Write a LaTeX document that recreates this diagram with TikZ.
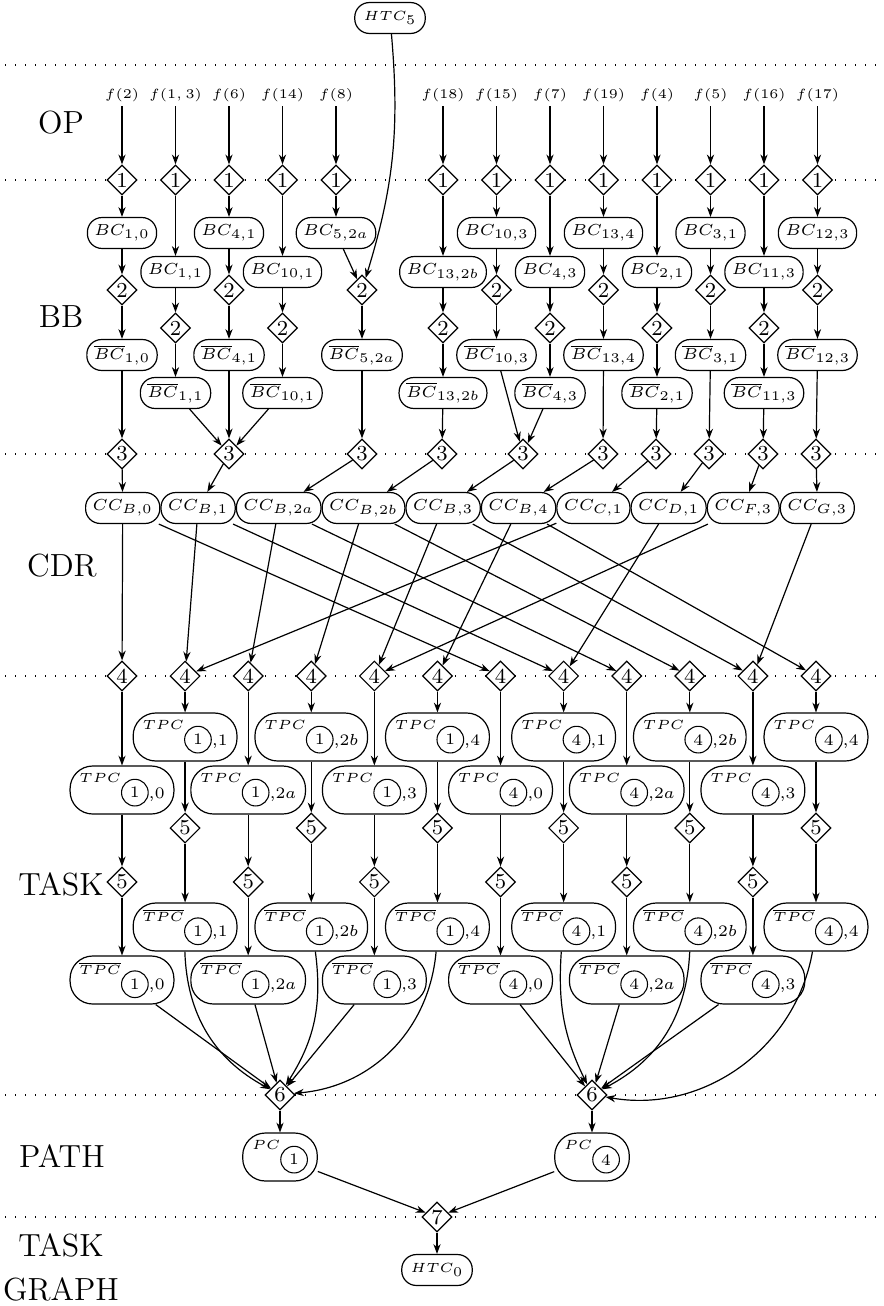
\documentclass[tikz,border=0pt]{standalone}
\usepackage{amsmath}
\usetikzlibrary{arrows.meta,positioning}
\usetikzlibrary{shapes.geometric}

\newcommand{\bcfont}{\fontsize{6}{7}\selectfont}
\newcommand{\circnum}[1]{\tikz[baseline=0pt]\node[draw,circle,inner sep=0pt,minimum size=10pt,font=\bcfont]{#1};}
\newcommand{\tpctext}[3]{$#1$\raisebox{-3.75pt}{\circnum{#2}}\raisebox{-5.8pt}{\bcfont${,}#3$}}
\newcommand{\pctext}[1]{$PC$\raisebox{-3.75pt}{\circnum{#1}}}

\begin{document}
\begin{tikzpicture}[x=0.375pt, y=-0.375pt, line width=0.45pt,
    >={Stealth[length=3.7pt,width=2.7pt]},
    dia/.style={diamond, draw, fill=white, inner sep=0pt, minimum size=11.25pt, font=\footnotesize},
    blk/.style={rectangle, rounded corners=5.5pt, draw, fill=white, inner xsep=2.6pt, inner ysep=0pt, minimum height=11.6pt, font=\bcfont},
    htcbox/.style={blk, inner xsep=3.3pt, font=\tiny},
    tpcbox/.style={rectangle, rounded corners=8.5pt, draw, fill=white, inner xsep=3.5pt, inner ysep=0pt, minimum height=18pt, font=\tiny},
    flab/.style={font=\tiny, inner sep=1.5pt},
    region/.style={font=\large, align=center},
    lvl/.style={line width=0.5pt, dash pattern=on 0.5pt off 3.25pt}]

\useasboundingbox (0,0) rectangle (884,1306);

% layer separators
\foreach \y in {65,180,454,676,1095,1217}
  \draw[lvl] (5,\y) -- (884,\y);

% layer names
\node[region] (op) at (61,123) {OP};
\node[region] (bb) at (61,317) {BB};
\node[region] (cdr) at (62,566) {CDR};
\node[region] (task) at (61,884) {TASK};
\node[region] (path) at (62,1156) {PATH};
\node[region, anchor=south, inner sep=0pt] (graph) at (61,1302) {TASK\\[2.75pt]GRAPH};

% operations
\foreach \c/\a in {0/2, 1/{1,3}, 2/6, 3/14, 4/8, 6/18, 7/15, 8/7, 9/19, 10/4, 11/5, 12/16, 13/17} {
  \node[flab] (f\c) at (122+53.5*\c, 95) {$f(\a)$};
  \node[dia] (one\c) at (122+53.5*\c, 180) {1};
  \draw[->] (f\c) -- (one\c);
}

\foreach \t/\x in {0/122, 2/229, 4/362, 6/442, 7/523, 9/603, 10/656, 11/709, 12/763, 13/816}
  \node[dia] (three\t) at (\x,454) {3};

% basic blocks
\foreach \c/\r/\s/\t in {0/0/{1,0}/0, 1/1/{1,1}/2, 2/0/{4,1}/2, 3/1/{10,1}/2, 6/1/{13,2b}/6,
    7/0/{10,3}/7, 8/1/{4,3}/7, 9/0/{13,4}/9, 10/1/{2,1}/10, 11/0/{3,1}/11, 12/1/{11,3}/12, 13/0/{12,3}/13} {
  \node[blk] (bc\c) at (122+53.5*\c, 233+39*\r) {$BC_{\s}$};
  \node[dia] (two\c) at (122+53.5*\c, 290+38*\r) {2};
  \node[blk] (bcb\c) at (122+53.5*\c, 355+38*\r) {$\overline{BC}_{\s}$};
  \draw[->] (one\c) -- (bc\c);
  \draw[->] (bc\c) -- (two\c);
  \draw[->] (two\c) -- (bcb\c);
  \draw[->] (bcb\c) -- (three\t);
}

\node[htcbox] (htc5) at (390,18) {$HTC_5$};
\node[blk] (bc4) at (336,233) {$BC_{5,2a}$};
\node[dia] (two4) at (362,290) {2};
\node[blk] (bcb4) at (362,355) {$\overline{BC}_{5,2a}$};
\draw[->] (one4) -- (bc4);
\draw[->] (bc4) -- (two4);
\draw[->] (htc5) to[bend left=11] (two4);
\draw[->] (two4) -- (bcb4);
\draw[->] (bcb4) -- (three4);

% control dependence regions
\node[blk, anchor=west] (cc0) at (85,508) {$CC_{B,0}$};
\foreach \s [count=\n] in {{B,1},{B,2a},{B,2b},{B,3},{B,4},{C,1},{D,1},{F,3},{G,3}} {
  \pgfmathtruncatemacro\p{\n-1}
  \node[blk, right=0pt of cc\p] (cc\n) {$CC_{\s}$};
}
\foreach \t/\n in {0/0, 2/1, 4/2, 6/3, 7/4, 9/5, 10/6, 11/7, 12/8, 13/9}
  \draw[->] (three\t) -- (cc\n);

\foreach \k in {0,...,11}
  \node[dia] (four\k) at (122+63.09*\k, 676) {4};
\foreach \n/\k in {0/0, 0/6, 1/1, 1/7, 2/2, 2/8, 3/3, 3/9, 4/4, 4/10, 5/5, 5/11, 6/1, 7/7, 8/4, 9/10}
  \draw[->] (cc\n) -- (four\k);

% tasks
\foreach \k/\s in {0/0, 1/1, 2/2a, 3/2b, 4/3, 5/4, 6/0, 7/1, 8/2a, 9/2b, 10/3, 11/4} {
  \pgfmathtruncatemacro\r{1-mod(\k,2)}
  \pgfmathtruncatemacro\p{\k<6 ? 1 : 4}
  \node[tpcbox] (tpc\k) at (122+63.09*\k, 737+53*\r) {\tpctext{TPC}{\p}{\s}};
  \node[dia] (five\k) at (122+63.09*\k, 828+54*\r) {5};
  \node[tpcbox] (tpcb\k) at (122+63.09*\k, 927+53*\r) {\tpctext{\overline{TPC}}{\p}{\s}};
  \draw[->] (four\k) -- (tpc\k);
  \draw[->] (tpc\k) -- (five\k);
  \draw[->] (five\k) -- (tpcb\k);
}

% paths
\node[dia] (six1) at (280,1095) {6};
\node[dia] (six4) at (592,1095) {6};
\draw[->] (tpcb0) -- (six1);
\draw[->] (tpcb1) to[bend right=30] (six1);
\draw[->] (tpcb2) -- (six1);
\draw[->] (tpcb3) to[bend left=20] (six1);
\draw[->] (tpcb4) -- (six1);
\draw[->] (tpcb5) to[bend left=40] (six1);
\draw[->] (tpcb6) -- (six4);
\draw[->] (tpcb7) to[bend right=15] (six4);
\draw[->] (tpcb8) -- (six4);
\draw[->] (tpcb9) to[bend left=30] (six4);
\draw[->] (tpcb10) -- (six4);
\draw[->] (tpcb11) to[bend left=45] (six4);

\node[tpcbox] (pc1) at (280,1157) {\pctext{1}};
\node[tpcbox] (pc4) at (592,1157) {\pctext{4}};
\node[dia] (seven) at (437,1217) {7};
\node[htcbox] (htc0) at (437,1270) {$HTC_0$};
\draw[->] (six1) -- (pc1);
\draw[->] (six4) -- (pc4);
\draw[->] (pc1) -- (seven);
\draw[->] (pc4) -- (seven);
\draw[->] (seven) -- (htc0);
\end{tikzpicture}
\end{document}
